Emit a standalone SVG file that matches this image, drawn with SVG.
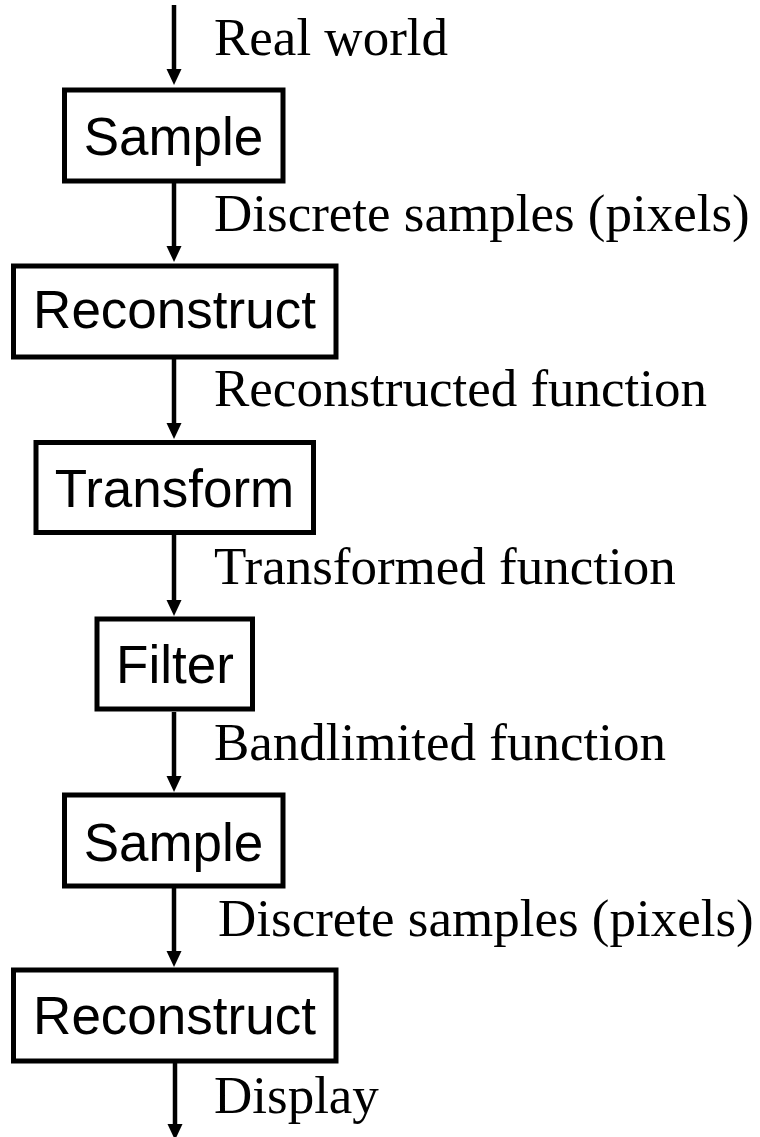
<svg xmlns="http://www.w3.org/2000/svg" width="760" height="1137" viewBox="0 0 760 1137">
<style>
.box{fill:#fff;stroke:#000;stroke-width:5}
.bt{font-family:"Liberation Sans",Arial,sans-serif;font-size:53px;fill:#000;text-anchor:middle}
.lb{font-family:"Liberation Serif","Times New Roman",serif;font-size:53px;fill:#000}
.ar{stroke:#000;stroke-width:4.5;fill:none;marker-end:url(#ah)}
</style>
<defs>
<marker id="ah" markerUnits="userSpaceOnUse" markerWidth="16" markerHeight="16" refX="0" refY="7.5" orient="auto" viewBox="0 0 16 15">
<path d="M0,0 L16,7.5 L0,15 z" fill="#000"/>
</marker>
</defs>
<g id="connectors">
<line class="ar" x1="174" y1="5" x2="174" y2="69"/>
<line class="ar" x1="174" y1="183" x2="174" y2="246"/>
<line class="ar" x1="174" y1="359" x2="174" y2="423"/>
<line class="ar" x1="174" y1="535" x2="174" y2="600"/>
<line class="ar" x1="174" y1="712" x2="174" y2="776"/>
<line class="ar" x1="174" y1="888" x2="174" y2="951"/>
<line class="ar" x1="175" y1="1063" x2="175" y2="1124"/>
</g>
<g id="labels">
<text class="lb" x="214" y="55">Real world</text>
<text class="lb" x="214" y="231">Discrete samples (pixels)</text>
<text class="lb" x="214" y="406">Reconstructed function</text>
<text class="lb" x="214" y="584">Transformed function</text>
<text class="lb" x="214" y="760">Bandlimited function</text>
<text class="lb" x="218" y="936">Discrete samples (pixels)</text>
<text class="lb" x="214" y="1113">Display</text>
</g>
<g id="sample1"><rect class="box" x="64.5" y="90" width="218.5" height="91"/><text class="bt" x="173.5" y="155">Sample</text></g>
<g id="reconstruct1"><rect class="box" x="13.5" y="266" width="322.5" height="91"/><text class="bt" x="174.5" y="328">Reconstruct</text></g>
<g id="transform"><rect class="box" x="36" y="442.5" width="277.5" height="90"/><text class="bt" x="174.5" y="507">Transform</text></g>
<g id="filter"><rect class="box" x="97" y="619" width="155.5" height="90"/><text class="bt" x="175" y="683">Filter</text></g>
<g id="sample2"><rect class="box" x="64.5" y="795" width="218.5" height="91"/><text class="bt" x="173.5" y="861">Sample</text></g>
<g id="reconstruct2"><rect class="box" x="13.5" y="970" width="322.5" height="91"/><text class="bt" x="174.5" y="1034">Reconstruct</text></g>
</svg>
